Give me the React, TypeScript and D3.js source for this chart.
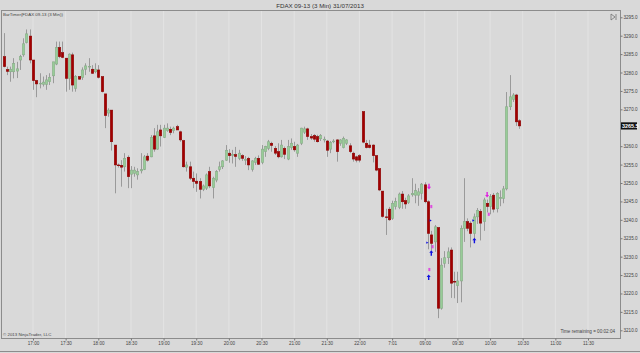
import React, { useEffect, useRef } from 'react';
import * as d3 from 'd3';

// 3 minute bars, first one at 16:33 (slot 1), 10 slots per half hour
const openPrices = [
  3284.3, 3280.8, 3280.2, 3280.2, 3280.4, 3283.4, 3284.8, 3288.1, 3289.9, 3283.4,
  3277.8, 3277.0, 3276.8, 3276.8, 3277.5, 3279.1, 3282.3, 3286.8, 3285.4, 3283.9,
  3278.4, 3284.8, 3275.7, 3278.9, 3278.7, 3280.9, 3281.6, 3280.9, 3280.2, 3280.7,
  3278.9, 3274.2, 3269.0, 3269.8, 3260.3, 3254.9, 3254.8, 3254.4, 3257.0, 3252.4,
  3252.6, 3252.2, 3253.3, 3253.7, 3257.3, 3257.1, 3262.8, 3259.2, 3264.4, 3262.4,
  3264.2, 3264.6, 3264.2, 3265.3, 3263.9, 3261.5, 3254.3, 3254.4, 3251.3, 3250.5,
  3250.4, 3248.3, 3248.6, 3253.1, 3248.8, 3250.8, 3253.7, 3254.4, 3256.2, 3258.1,
  3257.5, 3257.7, 3256.7, 3257.4, 3256.2, 3256.7, 3253.7, 3255.6, 3256.7, 3255.6,
  3258.5, 3259.4, 3260.8, 3259.4, 3258.5, 3257.1, 3259.4, 3256.5, 3259.6, 3259.9,
  3258.1, 3260.8, 3263.8, 3264.7, 3262.6, 3262.9, 3262.6, 3262.0, 3261.9, 3261.4,
  3259.2, 3261.2, 3261.7, 3260.8, 3259.6, 3260.8, 3260.1, 3258.1, 3257.1, 3257.4,
  3269.4, 3260.8, 3260.3, 3260.3, 3257.4, 3253.9, 3247.8, 3240.8, 3242.9, 3240.4,
  3243.6, 3243.4, 3247.0, 3245.2, 3244.7, 3246.8, 3246.7, 3246.7, 3247.2, 3249.5,
  3244.9, 3235.9, 3234.0, 3237.9, 3216.0, 3228.2, 3229.7, 3231.8, 3223.3, 3222.1,
  3223.4, 3237.7, 3239.5, 3239.1, 3236.3, 3240.8, 3242.3, 3239.5, 3244.5, 3243.6,
  3246.7, 3243.0, 3245.8, 3245.8, 3248.4, 3270.7, 3272.7, 3273.9, 3266.9,
];
const highPrices = [
  3290.7, 3281.6, 3281.6, 3283.9, 3282.9, 3284.8, 3289.3, 3291.7, 3291.7, 3283.4,
  3278.0, 3279.8, 3278.9, 3279.3, 3279.8, 3282.9, 3288.4, 3288.4, 3288.4, 3283.9,
  3285.2, 3285.4, 3279.3, 3279.0, 3281.4, 3282.5, 3283.9, 3282.0, 3282.5, 3282.0,
  3278.9, 3274.2, 3270.3, 3269.8, 3260.3, 3255.3, 3256.2, 3258.1, 3257.5, 3254.6,
  3254.4, 3254.0, 3258.1, 3257.6, 3258.1, 3263.0, 3264.9, 3265.8, 3265.8, 3265.8,
  3266.2, 3265.3, 3265.3, 3265.8, 3264.2, 3261.7, 3255.8, 3255.8, 3253.1, 3252.6,
  3251.3, 3249.6, 3252.6, 3254.4, 3251.7, 3253.5, 3255.8, 3256.2, 3260.3, 3259.2,
  3259.0, 3259.8, 3259.0, 3257.8, 3257.3, 3257.1, 3256.2, 3257.1, 3257.5, 3260.3,
  3260.1, 3261.7, 3261.2, 3260.0, 3260.8, 3261.7, 3259.9, 3261.7, 3262.1, 3261.2,
  3260.6, 3265.0, 3265.3, 3265.0, 3263.3, 3263.3, 3263.1, 3263.3, 3262.6, 3261.7,
  3261.4, 3261.9, 3261.9, 3261.9, 3262.6, 3261.9, 3260.8, 3258.5, 3257.4, 3257.8,
  3269.4, 3261.7, 3261.7, 3260.5, 3257.6, 3253.9, 3247.8, 3243.0, 3243.5, 3245.2,
  3246.0, 3247.4, 3247.8, 3246.0, 3247.0, 3251.3, 3249.8, 3248.6, 3250.0, 3250.2,
  3245.3, 3237.0, 3238.6, 3237.9, 3229.6, 3231.5, 3232.5, 3232.5, 3225.9, 3225.9,
  3238.5, 3251.3, 3240.4, 3239.6, 3241.7, 3243.2, 3242.9, 3246.0, 3245.5, 3247.0,
  3247.3, 3247.5, 3248.0, 3249.2, 3274.7, 3279.3, 3274.4, 3274.2, 3267.3,
];
const lowPrices = [
  3281.4, 3279.3, 3277.5, 3278.4, 3278.5, 3280.7, 3284.3, 3287.9, 3282.5, 3275.3,
  3273.3, 3275.7, 3276.2, 3275.3, 3276.6, 3277.1, 3282.0, 3283.9, 3283.9, 3274.8,
  3275.3, 3274.8, 3274.8, 3278.0, 3278.0, 3279.3, 3280.2, 3279.6, 3279.8, 3278.4,
  3274.6, 3264.9, 3268.0, 3258.8, 3247.2, 3254.2, 3249.0, 3253.1, 3248.6, 3248.6,
  3251.7, 3250.9, 3252.6, 3253.5, 3255.8, 3257.0, 3258.5, 3259.0, 3259.9, 3262.2,
  3263.9, 3263.0, 3263.5, 3264.4, 3261.2, 3254.2, 3253.1, 3250.8, 3248.6, 3247.6,
  3245.8, 3247.8, 3248.1, 3248.6, 3245.8, 3250.2, 3253.1, 3253.8, 3256.0, 3255.5,
  3255.3, 3254.4, 3256.2, 3256.0, 3254.9, 3253.5, 3253.1, 3254.9, 3254.9, 3255.1,
  3257.1, 3258.9, 3258.5, 3257.6, 3256.7, 3256.9, 3256.5, 3256.2, 3259.0, 3258.5,
  3257.1, 3260.3, 3263.3, 3261.7, 3261.7, 3261.2, 3261.0, 3261.4, 3261.0, 3257.1,
  3258.1, 3260.8, 3255.8, 3260.1, 3259.4, 3260.3, 3258.1, 3255.8, 3255.6, 3255.6,
  3260.8, 3259.4, 3259.4, 3255.6, 3253.2, 3247.8, 3240.6, 3235.9, 3239.7, 3240.0,
  3242.8, 3242.9, 3243.0, 3243.0, 3244.3, 3246.3, 3244.5, 3243.8, 3245.5, 3244.5,
  3232.0, 3231.7, 3231.3, 3213.3, 3215.6, 3227.0, 3228.0, 3218.8, 3218.7, 3217.4,
  3217.6, 3234.0, 3236.9, 3232.5, 3235.0, 3238.9, 3234.4, 3237.0, 3242.0, 3241.5,
  3242.0, 3242.0, 3243.7, 3244.5, 3248.0, 3269.8, 3272.0, 3265.5, 3264.7,
];
const closePrices = [
  3281.6, 3280.3, 3280.9, 3282.5, 3281.0, 3284.3, 3287.8, 3290.5, 3283.4, 3277.8,
  3276.9, 3277.1, 3277.4, 3278.0, 3278.7, 3282.9, 3286.8, 3284.3, 3284.1, 3278.4,
  3285.0, 3276.6, 3278.9, 3278.2, 3280.7, 3281.8, 3281.7, 3279.8, 3280.9, 3278.7,
  3274.8, 3268.3, 3269.8, 3261.2, 3254.9, 3254.7, 3254.3, 3256.7, 3251.7, 3253.5,
  3253.5, 3253.1, 3253.6, 3257.1, 3256.2, 3262.4, 3259.2, 3263.9, 3262.8, 3264.9,
  3264.9, 3263.7, 3264.9, 3264.4, 3261.7, 3254.4, 3254.9, 3251.3, 3250.4, 3249.9,
  3248.3, 3249.2, 3252.2, 3249.2, 3251.3, 3253.1, 3254.4, 3256.0, 3258.9, 3257.4,
  3257.8, 3257.2, 3258.1, 3256.7, 3256.4, 3254.9, 3256.0, 3256.6, 3255.1, 3259.2,
  3259.9, 3261.2, 3260.2, 3258.1, 3257.1, 3260.3, 3257.8, 3259.9, 3260.8, 3259.0,
  3260.3, 3264.9, 3264.7, 3262.6, 3262.2, 3261.9, 3261.2, 3262.9, 3261.9, 3258.9,
  3261.0, 3261.4, 3258.5, 3261.7, 3262.1, 3261.7, 3258.5, 3256.5, 3256.2, 3256.2,
  3261.1, 3259.6, 3259.6, 3257.4, 3253.5, 3248.1, 3240.9, 3240.6, 3240.0, 3244.5,
  3245.0, 3247.0, 3244.9, 3244.3, 3246.5, 3247.2, 3247.9, 3247.6, 3249.7, 3244.9,
  3236.3, 3233.6, 3238.1, 3216.0, 3227.7, 3229.7, 3231.3, 3222.8, 3223.1, 3223.4,
  3237.7, 3239.5, 3237.7, 3236.3, 3240.8, 3242.6, 3239.1, 3245.4, 3243.6, 3246.3,
  3242.9, 3247.2, 3246.0, 3248.4, 3270.7, 3273.4, 3273.9, 3266.6, 3265.5,
];

const timeLabels = [
  '17:00', '17:30', '18:00', '18:30', '19:00', '19:30', '20:00', '20:30', '21:00',
  '21:30', '22:00', '7:01', '09:00', '09:30', '10:00', '10:30', '11:00', '11:30',
];
const priceTicks = [
  3210, 3215, 3220, 3225, 3230, 3235, 3240, 3245, 3250, 3255, 3260, 3265, 3270,
  3275, 3280, 3285, 3290, 3295,
];

// strategy signals drawn next to the bars
const markerSlots = [131.3, 132, 131.8, 130.8, 132.4, 132, 131.4, 131.2, 145.2, 144.9, 149.1, 149.6];
const markerPrices = [3248.9, 3243.6, 3239.8, 3233.8, 3232.7, 3231.1, 3226.5, 3224.5, 3234.5, 3239.8, 3246.7, 3241.5];
const markerKinds = ['sell', 'tag', 'dot', 'dot', 'tag', 'buy', 'tag', 'buy', 'buy', 'dot', 'sell', 'tag'];

const App: React.FC = () => {
  const containerRef = useRef<HTMLDivElement | null>(null);

  useEffect(() => {
    if (!containerRef.current) return;
    containerRef.current.innerHTML = '';
    document.body.style.margin = '0';

    const width = 640;
    const height = 353;
    const plot = { left: 1, right: 620, top: 10, bottom: 338 };
    const font = '"Liberation Sans", Arial, sans-serif';

    const xScale = d3.scaleLinear().domain([10, 180]).range([33, 588]);
    const yScale = d3.scaleLinear().domain([3210, 3290]).range([330.3, 35.7]);
    const tickSlots = timeLabels.map((_, i) => 10 + i * 10);
    const last = closePrices[closePrices.length - 1];

    const svg = d3
      .select(containerRef.current)
      .append('svg')
      .attr('width', width)
      .attr('height', height)
      .style('display', 'block')
      .style('font-family', font);

    svg.append('rect').attr('width', width).attr('height', height).attr('fill', '#d9d9d9');

    // vertical grid
    svg
      .append('g')
      .selectAll('line')
      .data(tickSlots)
      .join('line')
      .attr('x1', (d) => xScale(d))
      .attr('x2', (d) => xScale(d))
      .attr('y1', plot.top)
      .attr('y2', plot.bottom)
      .attr('stroke', '#e3e3e3')
      .attr('stroke-width', 1);

    // frame
    svg
      .append('rect')
      .attr('x', plot.left + 0.5)
      .attr('y', plot.top + 0.5)
      .attr('width', plot.right - plot.left)
      .attr('height', plot.bottom - plot.top)
      .attr('fill', 'none')
      .attr('stroke', '#8c8c8c');
    svg
      .append('line')
      .attr('x1', 0)
      .attr('x2', width)
      .attr('y1', height - 1.5)
      .attr('y2', height - 1.5)
      .attr('stroke', '#8c8c8c');

    const bars = openPrices.map((o, i) => ({
      slot: i + 1,
      o,
      h: highPrices[i],
      l: lowPrices[i],
      c: closePrices[i],
    }));
    const bodyW = 2.5;

    const candles = svg.append('g');
    candles
      .selectAll('line')
      .data(bars)
      .join('line')
      .attr('x1', (d) => Math.round(xScale(d.slot)) + 0.5)
      .attr('x2', (d) => Math.round(xScale(d.slot)) + 0.5)
      .attr('y1', (d) => yScale(d.h))
      .attr('y2', (d) => yScale(d.l))
      .attr('stroke', '#9a9a9a')
      .attr('stroke-width', 1);
    candles
      .selectAll('rect')
      .data(bars)
      .join('rect')
      .attr('x', (d) => Math.round(xScale(d.slot)) + 0.5 - bodyW / 2)
      .attr('y', (d) => yScale(Math.max(d.o, d.c)))
      .attr('width', bodyW)
      .attr('height', (d) => Math.max(0.8, Math.abs(yScale(d.o) - yScale(d.c))))
      .attr('fill', (d) => (d.c >= d.o ? '#98cc98' : '#a30000'))
      .attr('stroke', (d) => (d.c >= d.o ? '#86a886' : '#880000'))
      .attr('stroke-width', 0.5);

    // signal markers
    const shapes: Record<string, string> = {
      sell: 'M-0.7,-3.2h1.4v3h1.3l-2,2.6l-2,-2.6h1.3z',
      buy: 'M-0.7,3.2h1.4v-3h1.3l-2,-2.6l-2,2.6h1.3z',
      dot: 'M-1.1,-1.2L1.1,0L-1.1,1.2z',
      tag: 'M-1,-1.6h2v3.2h-2z',
    };
    svg
      .append('g')
      .selectAll('path')
      .data(markerSlots)
      .join('path')
      .attr('transform', (d, i) => `translate(${xScale(d)},${yScale(markerPrices[i])})`)
      .attr('d', (_, i) => shapes[markerKinds[i]])
      .attr('fill', (_, i) => (markerKinds[i] === 'buy' || markerKinds[i] === 'dot' ? '#1010e0' : '#e020e0'))
      .attr('opacity', (_, i) => (markerKinds[i] === 'tag' ? 0.75 : 1));

    // price axis, the label under the last price box is left out
    const yAxis = svg
      .append('g')
      .attr('transform', `translate(${plot.right + 0.5},0)`)
      .call(
        d3
          .axisRight<number>(yScale)
          .tickValues(priceTicks)
          .tickSize(2)
          .tickPadding(1)
          .tickFormat((d) => (Math.abs(yScale(d) - yScale(last)) < 6 ? '' : d3.format('.1f')(d))),
      );
    yAxis.select('.domain').remove();
    yAxis.selectAll('line').attr('stroke', '#777');
    yAxis.selectAll('text').attr('font-size', 4.6).attr('fill', '#444').attr('font-family', font);

    // last price box
    const ly = yScale(last);
    svg
      .append('rect')
      .attr('x', plot.right + 1)
      .attr('y', ly - 3.6)
      .attr('width', 16)
      .attr('height', 7.2)
      .attr('fill', '#111');
    svg
      .append('text')
      .attr('x', plot.right + 2)
      .attr('y', ly + 2)
      .attr('font-size', 5.4)
      .attr('font-weight', 'bold')
      .attr('fill', '#fff')
      .text(d3.format('.1f')(last));

    // time axis
    const xAxis = svg
      .append('g')
      .attr('transform', `translate(0,${plot.bottom + 0.5})`)
      .call(
        d3
          .axisBottom<number>(xScale)
          .tickValues(tickSlots)
          .tickSize(2)
          .tickPadding(1)
          .tickFormat((_, i) => timeLabels[i]),
      );
    xAxis.select('.domain').remove();
    xAxis.selectAll('line').attr('stroke', '#777');
    xAxis.selectAll('text').attr('font-size', 4.6).attr('fill', '#444').attr('font-family', font);

    // texts
    svg
      .append('text')
      .attr('x', 320)
      .attr('y', 7.5)
      .attr('text-anchor', 'middle')
      .attr('font-size', 6.2)
      .attr('fill', '#333')
      .text('FDAX 09-13 (3 Min)  31/07/2013');
    svg
      .append('text')
      .attr('x', 3)
      .attr('y', 16)
      .attr('font-size', 4.4)
      .attr('fill', '#444')
      .text('BarTimer(FDAX 09-13 (3 Min))');
    svg
      .append('text')
      .attr('x', 3)
      .attr('y', 335.5)
      .attr('font-size', 4.4)
      .attr('fill', '#444')
      .text('© 2013 NinjaTrader, LLC');
    svg
      .append('text')
      .attr('x', 615)
      .attr('y', 332.5)
      .attr('text-anchor', 'end')
      .attr('font-size', 4.6)
      .attr('fill', '#444')
      .text('Time remaining = 00:02:04');

    // scroll-to-end button
    const btn = svg.append('g').attr('transform', 'translate(611,14)').attr('fill', 'none').attr('stroke', '#666').attr('stroke-width', 0.7);
    btn.append('path').attr('d', 'M0,0L4,3L0,6Z');
    btn.append('line').attr('x1', 5).attr('x2', 5).attr('y1', 0).attr('y2', 6);
  }, []);

  return <div ref={containerRef} id="chart" />;
};

export default App;
